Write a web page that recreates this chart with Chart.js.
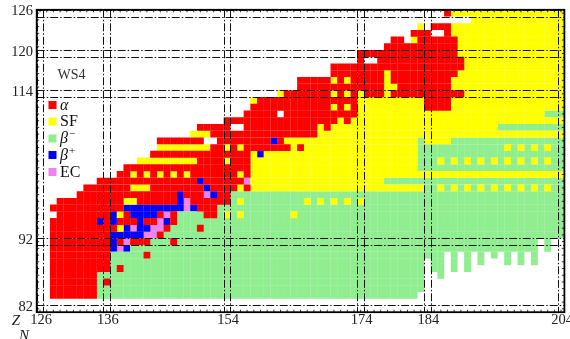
<!DOCTYPE html>
<html>
<head>
<meta charset="utf-8">
<script src="https://cdn.jsdelivr.net/npm/chart.js@4.4.0/dist/chart.umd.min.js"></script>
<style>
  html, body { margin: 0; padding: 0; background: #fff; }
  #wrap { width: 570px; height: 339px; }
</style>
</head>
<body>
<div id="wrap"><canvas id="grafico" width="570" height="339"></canvas></div>
<script>
// Modos de desintegración (códigos usados en las filas)
const modos = ['a', 's', 'b', 'p', 'e'];
const etiquetasModos = ['α', 'SF', 'β−', 'β+', 'EC'];
const coloresModos = ['#ff0000', '#ffff00', '#90ee90', '#0000ff', '#ee82ee'];

// Ticks de los ejes (números mágicos)
const ticksN = [126, 136, 154, 174, 184, 204];
const ticksZ = [82, 92, 114, 120, 126];

// Filas del mapa: [Z, "código inicio-fin ..."]; lo que va después sobrescribe
const filas = [
  [126, 'a187 s188-204'],
  [125, 's191-204'],
  [124, 's183 a185-187 s188-204'],
  [123, 'a182-184 a187 s188-204'],
  [122, 'a179-180 s182 a183-188 s189-204'],
  [121, 'a178-188 s189-204'],
  [120, 'a174-188 s189-204'],
  [119, 'a174 a177-189 s190-204'],
  [118, 'a170-189 s190-204'],
  [117, 'a170-188 s178 s189-204'],
  [116, 'a165-187 s170 s172 s178 s188-204'],
  [115, 'a165-187 s178-179 s188-204'],
  [114, 's162 a163-184 s170 s172 s174 s178 a185-189 s190-204'],
  [113, 's158 a159-173 s174-183 a184-187 s188-204'],
  [112, 'a158-173 s170 s172 s174-183 a184-187 s188-204'],
  [111, 'a157-173 w162 s174-201 b202-204'],
  [110, 'a154-170 s171 a172 s173-204'],
  [109, 'a150-154 a157-167 s168 a169 s170-194 b195-204'],
  [108, 's149-151 a152-167 s168-204'],
  [107, 'a144-150 a153-160 p161 a162 s163-182 b183 s184-187 b188-204'],
  [106, 's144-151 a152-162 s154 s156 a163 s164 a165 s166-182 b183-204 s196 s198 s200 s202'],
  [105, 'a143-157 s158 p159 s160-182 b183-204'],
  [104, 's141-149 a150-157 s154 s158-182 b183-204 s186 s188 s190 s192 s194 s196 s198 s200 s202'],
  [103, 'a139-157 s158-182 b183-204'],
  [102, 'a138-157 s140 s142 s144 s146 s148 s156 s158-204'],
  [101, 'a135-157 p150 e157 s158-177 b178-204'],
  [100, 'a133-139 s140-142 a143-157 p151 s156 s158-183 b184-204 s186 s188 s190 s192 s194 s196 s198 s200 s202'],
  [99, 'a132-154 p147 e151 p152 b155-204'],
  [98, 'a129-154 s139-140 p147 e148 b155-204 s156 s166 s168 s170 s172 s174'],
  [97, 'a128-152 p139-147 e148 p149 b153-204'],
  [96, 'a129-146 p137 s138 p140-143 e145 b147-150 a151-152 b153-204 s154 s156 s164'],
  [95, 'a128-146 p135 p137 p141 e144 p145 b147-204'],
  [94, 'a128-145 s138 p139 e140 p141-142 e143-144 b146-204 a150'],
  [93, 'a128-144 p137-141 e142-143 b145-204'],
  [92, 'a128-142 p137 e139 b143-200 a146 b202'],
  [91, 'a128-139 p137 e138 p139 b140-200 b202'],
  [90, 'a128-136 b137-186 a142 b188 b190 b192 b194 b196 b198 b200'],
  [89, 'a128-136 b137-183 b185-186 b188 b190 b192 b196 b198 b200'],
  [88, 'a128-136 b137-183 a138 b185-186 b188 b190'],
  [87, 'a128-134 b135-183 b186'],
  [86, 'a128-134 b135-183 a136'],
  [85, 'a128-134 b135-183'],
  [84, 'a128-134 b135-182']
];

// Pasar las filas a una rejilla {"Z,N": código}
function construirRejilla() {
  const rejilla = {};
  filas.forEach(([z, spec]) => {
    spec.split(' ').forEach(tok => {
      const codigo = tok[0];
      const partes = tok.slice(1).split('-').map(Number);
      const ini = partes[0];
      const fin = partes.length > 1 ? partes[1] : ini;
      for (let n = ini; n <= fin; n++) {
        if (codigo === 'w') delete rejilla[z + ',' + n];
        else rejilla[z + ',' + n] = codigo;
      }
    });
  });
  return rejilla;
}

const rejilla = construirRejilla();

const datasets = modos.map((m, i) => {
  const puntos = [];
  Object.keys(rejilla).forEach(k => {
    if (rejilla[k] !== m) return;
    const [z, n] = k.split(',').map(Number);
    puntos.push({ x: n, y: z });
  });
  return {
    label: etiquetasModos[i],
    data: puntos,
    pointStyle: 'rect',
    pointRadius: 4.85,
    pointHoverRadius: 4.85,
    backgroundColor: coloresModos[i],
    borderWidth: 0,
    showLine: false
  };
});

const fuenteSerif = '"Liberation Serif", "DejaVu Serif", serif';

// Líneas de números mágicos, marco, ticks y textos
const pluginDecoracion = {
  id: 'decoracion',
  afterDatasetsDraw: (chart) => {
    const ctx = chart.ctx;
    const x = chart.scales.x;
    const y = chart.scales.y;
    const area = chart.chartArea;

    // líneas dobles discontinuas (punto y raya)
    ctx.save();
    ctx.strokeStyle = '#111';
    ctx.lineWidth = 1;
    ctx.setLineDash([8, 2, 1.5, 2]);
    ticksN.forEach(n => {
      [n - 0.5, n + 0.5].forEach(v => {
        const px = Math.round(x.getPixelForValue(v)) + 0.5;
        ctx.beginPath();
        ctx.moveTo(px, area.top);
        ctx.lineTo(px, area.bottom);
        ctx.stroke();
      });
    });
    ticksZ.forEach(z => {
      [z - 0.5, z + 0.5].forEach(v => {
        const py = Math.round(y.getPixelForValue(v)) + 0.5;
        ctx.beginPath();
        ctx.moveTo(area.left, py);
        ctx.lineTo(area.right, py);
        ctx.stroke();
      });
    });
    ctx.restore();

    // marco con ticks menores hacia dentro
    ctx.save();
    ctx.strokeStyle = '#000';
    ctx.lineWidth = 1.8;
    ctx.strokeRect(area.left, area.top, area.right - area.left, area.bottom - area.top);
    ctx.lineWidth = 0.8;
    ctx.beginPath();
    for (let n = 126; n <= 204; n++) {
      const px = x.getPixelForValue(n);
      ctx.moveTo(px, area.top); ctx.lineTo(px, area.top + 2.5);
      ctx.moveTo(px, area.bottom); ctx.lineTo(px, area.bottom - 2.5);
    }
    for (let z = 82; z <= 126; z++) {
      const py = y.getPixelForValue(z);
      ctx.moveTo(area.left, py); ctx.lineTo(area.left + 2.5, py);
      ctx.moveTo(area.right, py); ctx.lineTo(area.right - 2.5, py);
    }
    ctx.stroke();
    ctx.restore();

    // etiquetas de los ejes
    ctx.save();
    ctx.fillStyle = '#222';
    ctx.font = '14.5px ' + fuenteSerif;
    ctx.textAlign = 'center';
    ctx.textBaseline = 'middle';
    ticksN.forEach(n => ctx.fillText(String(n), x.getPixelForValue(n) + 1, 320.5));
    ctx.textAlign = 'right';
    ticksZ.forEach(z => ctx.fillText(String(z), 33, y.getPixelForValue(z) - 1.5));

    ctx.font = 'italic 15px ' + fuenteSerif;
    ctx.textAlign = 'center';
    ctx.fillText('Z', 16, 321);
    ctx.fillText('N', 24, 336);

    // etiqueta del modelo
    ctx.fillStyle = '#333';
    ctx.font = '14px ' + fuenteSerif;
    ctx.fillText('WS4', 71.5, 75);

    // leyenda dentro del área
    const yLeyenda = [105, 121.5, 138.5, 155, 172];
    etiquetasModos.forEach((et, i) => {
      const cy = yLeyenda[i];
      ctx.fillStyle = coloresModos[i];
      ctx.fillRect(48.5, cy - 4, 8, 8);
      ctx.fillStyle = '#111';
      ctx.textAlign = 'left';
      ctx.textBaseline = 'middle';
      if (et === 'SF' || et === 'EC') {
        ctx.font = '16px ' + fuenteSerif;
        ctx.fillText(et, 60, cy + 0.5);
      } else {
        ctx.font = 'italic 16px ' + fuenteSerif;
        ctx.fillText(et[0], 60, cy + 0.5);
        if (et.length > 1) {
          const w = ctx.measureText(et[0]).width;
          ctx.font = '11px ' + fuenteSerif;
          ctx.fillText(et.slice(1), 60 + w + 1, cy - 4);
        }
      }
    });
    ctx.restore();
  }
};

const ctx = document.getElementById('grafico').getContext('2d');
new Chart(ctx, {
  type: 'scatter',
  data: { datasets: datasets },
  options: {
    responsive: false,
    animation: false,
    devicePixelRatio: 1,
    layout: { padding: { left: 36.7, right: 5.6, top: 9.8, bottom: 26.8 } },
    plugins: { legend: { display: false }, tooltip: { enabled: false } },
    events: [],
    scales: {
      x: { type: 'linear', min: 125.5, max: 204.5, display: false },
      y: { type: 'linear', min: 81.5, max: 126.5, display: false }
    }
  },
  plugins: [pluginDecoracion]
});
</script>
</body>
</html>
